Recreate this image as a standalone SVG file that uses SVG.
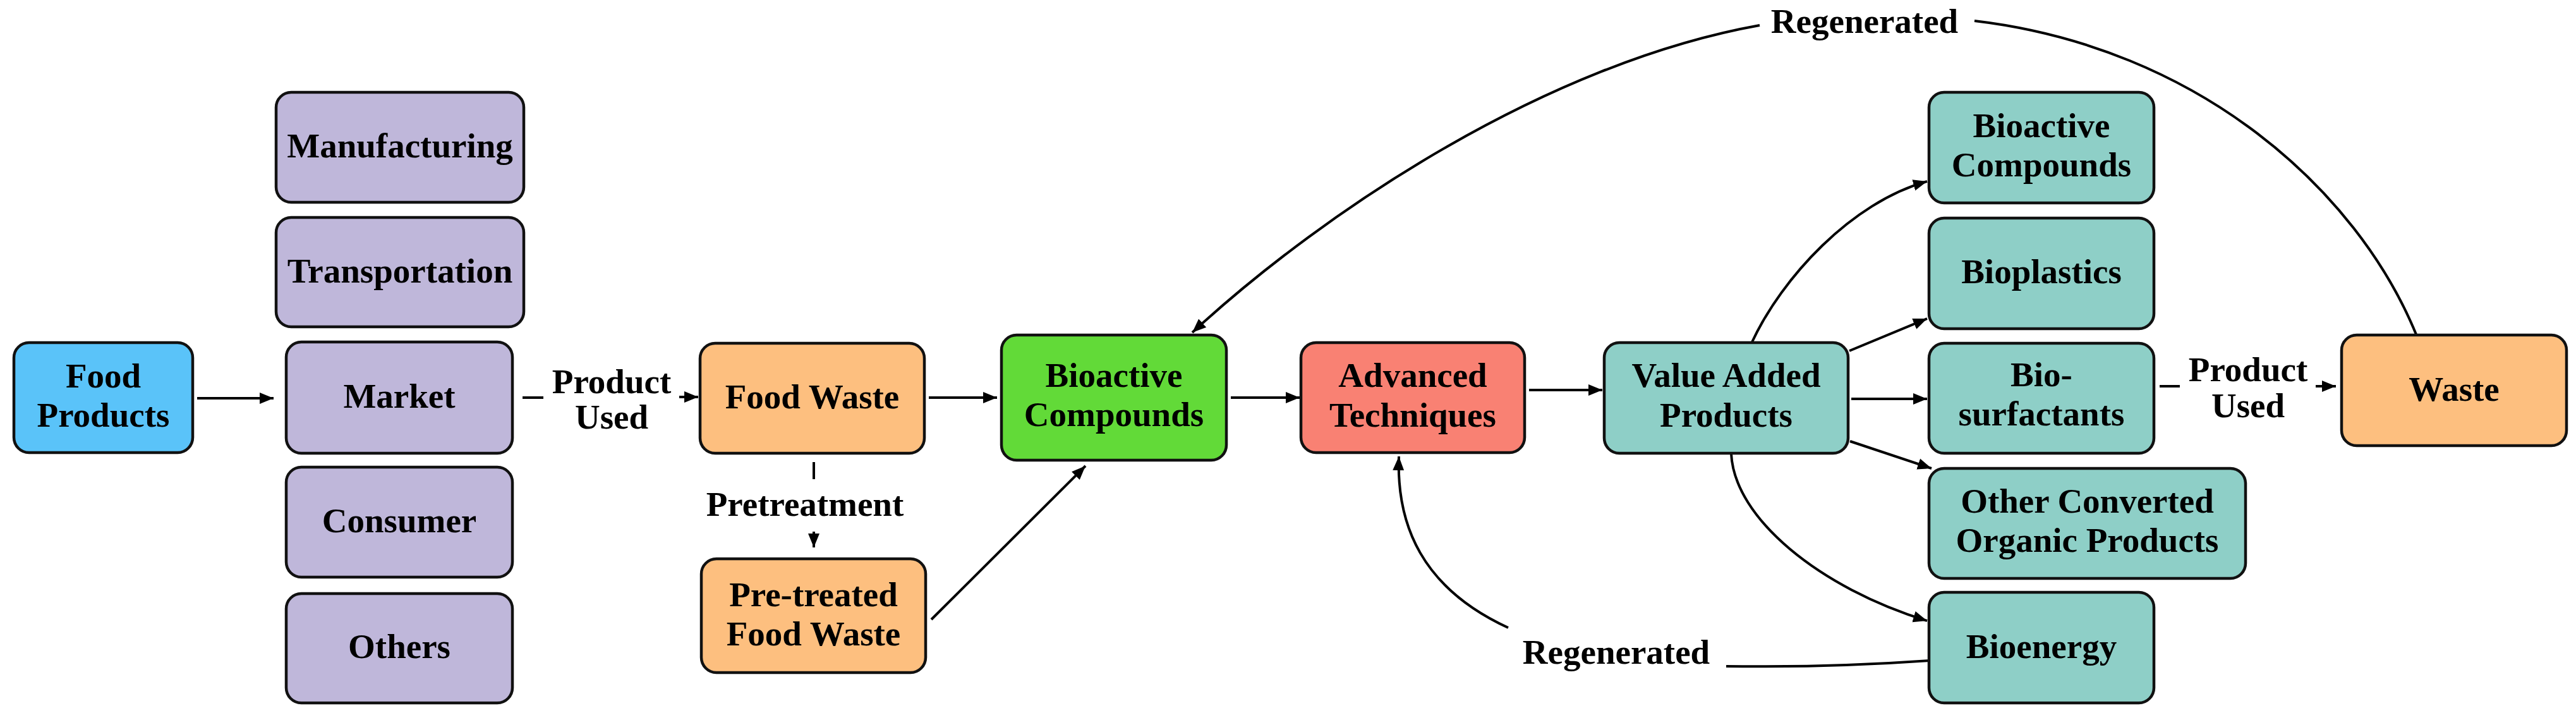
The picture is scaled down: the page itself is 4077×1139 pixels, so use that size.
<svg xmlns="http://www.w3.org/2000/svg" width="4077" height="1139" viewBox="0 0 4077 1139">
<style>
.box{stroke:#111;stroke-width:4.5}
.blue{fill:#5AC3F9}.purple{fill:#BFB7DA}.orange{fill:#FDBF7F}.green{fill:#62DA38}.red{fill:#F98173}.teal{fill:#8ECFC7}
text{font-family:"Liberation Serif","Times New Roman",serif;font-weight:bold;font-size:55px;fill:#000;text-anchor:middle}
.c{fill:none;stroke:#000;stroke-width:4}
.a{marker-end:url(#ah)}
</style>
<defs>
<marker id="ah" markerUnits="userSpaceOnUse" markerWidth="24" markerHeight="20" refX="22" refY="10" orient="auto">
<path d="M0,1 L22,10 L0,19 z" fill="#000"/>
</marker>
</defs>
<rect width="4077" height="1139" fill="#fff"/>
<g id="connectors">
<path class="c a" d="M312,630 L433,630"/>
<path class="c" d="M827,629 L860,629"/>
<path class="c a" d="M1075,628 L1105,628"/>
<path class="c" d="M1288,731 L1288,758"/>
<path class="c a" d="M1288,841 L1288,866"/>
<path class="c a" d="M1470,629 L1578,629"/>
<path class="c a" d="M1474,980 L1718,737"/>
<path class="c a" d="M1948,629 L2057,629"/>
<path class="c a" d="M2420,617 L2536,617"/>
<path class="c a" d="M2773,541 C2820,440 2930,320 3050,287"/>
<path class="c a" d="M2927,555 L3050,504"/>
<path class="c a" d="M2930,631 L3050,631"/>
<path class="c a" d="M2928,698 L3057,741"/>
<path class="c a" d="M2740,718 C2745,820 2880,930 3050,982"/>
<path class="c" d="M3418,611 L3450,611"/>
<path class="c a" d="M3665,611 L3697,611"/>
<path class="c" d="M3824,529 C3730,300 3480,75 3125,33"/>
<path class="c a" d="M2785,40 C2450,100 2100,330 1887,526"/>
<path class="c" d="M3053,1045 Q2900,1056 2732,1054"/>
<path class="c a" d="M2387,993 C2250,930 2210,830 2214,722"/>
<text x="968" y="622">Product</text>
<text x="968" y="678">Used</text>
<text x="1274" y="816">Pretreatment</text>
<text x="3558" y="603">Product</text>
<text x="3558" y="660">Used</text>
<text x="2951" y="52">Regenerated</text>
<text x="2558" y="1050">Regenerated</text>
</g>
<g id="food-products"><rect class="box blue" x="22" y="542" width="283" height="174" rx="24"/><text x="163.5" y="613">Food</text><text x="163.5" y="675">Products</text></g>
<g id="manufacturing"><rect class="box purple" x="437" y="146" width="392" height="174" rx="24"/><text x="633" y="249">Manufacturing</text></g>
<g id="transportation"><rect class="box purple" x="437" y="344" width="392" height="173" rx="24"/><text x="633" y="447">Transportation</text></g>
<g id="market"><rect class="box purple" x="453" y="541" width="358" height="176" rx="24"/><text x="632" y="645">Market</text></g>
<g id="consumer"><rect class="box purple" x="453" y="739" width="358" height="174" rx="24"/><text x="632" y="842">Consumer</text></g>
<g id="others"><rect class="box purple" x="453" y="939" width="358" height="173" rx="24"/><text x="632" y="1041">Others</text></g>
<g id="food-waste"><rect class="box orange" x="1108" y="543" width="355" height="174" rx="24"/><text x="1285.5" y="646">Food Waste</text></g>
<g id="pretreated"><rect class="box orange" x="1110" y="884" width="355" height="180" rx="24"/><text x="1287.5" y="959">Pre-treated</text><text x="1287.5" y="1021">Food Waste</text></g>
<g id="bioactive-green"><rect class="box green" x="1585" y="530" width="356" height="198" rx="24"/><text x="1763" y="612">Bioactive</text><text x="1763" y="674">Compounds</text></g>
<g id="advanced"><rect class="box red" x="2059" y="542" width="354" height="174" rx="24"/><text x="2236" y="612">Advanced</text><text x="2236" y="675">Techniques</text></g>
<g id="value-added"><rect class="box teal" x="2539" y="542" width="386" height="175" rx="24"/><text x="2732" y="612">Value Added</text><text x="2732" y="675">Products</text></g>
<g id="bioactive-teal"><rect class="box teal" x="3053" y="146" width="356" height="175" rx="24"/><text x="3231" y="217">Bioactive</text><text x="3231" y="279">Compounds</text></g>
<g id="bioplastics"><rect class="box teal" x="3053" y="345" width="356" height="175" rx="24"/><text x="3231" y="448">Bioplastics</text></g>
<g id="biosurfactants"><rect class="box teal" x="3053" y="543" width="356" height="174" rx="24"/><text x="3231" y="611">Bio-</text><text x="3231" y="673">surfactants</text></g>
<g id="other-converted"><rect class="box teal" x="3053" y="741" width="501" height="174" rx="24"/><text x="3303.5" y="811">Other Converted</text><text x="3303.5" y="873">Organic Products</text></g>
<g id="bioenergy"><rect class="box teal" x="3053" y="937" width="356" height="175" rx="24"/><text x="3231" y="1041">Bioenergy</text></g>
<g id="waste"><rect class="box orange" x="3706" y="530" width="356" height="175" rx="24"/><text x="3884" y="634">Waste</text></g>
</svg>
